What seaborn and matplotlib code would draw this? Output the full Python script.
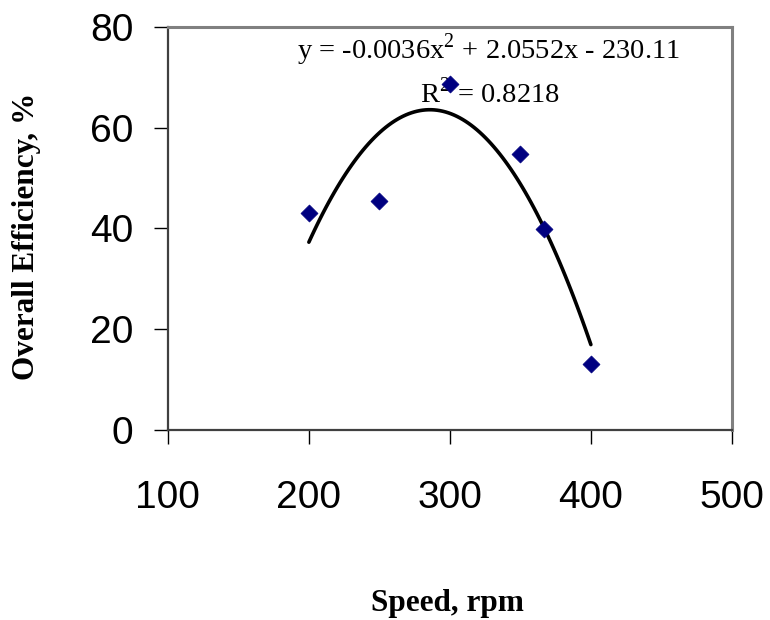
import numpy as np
import matplotlib
matplotlib.use("Agg")
import matplotlib.pyplot as plt
import seaborn as sns
import pandas as pd

# data
speed = [200, 250, 300, 350, 367, 400]
efficiency = [43.1, 45.4, 68.7, 54.7, 39.9, 13.1]
x_ticks = [100, 200, 300, 400, 500]
y_ticks = [0, 20, 40, 60, 80]
eq_text = "y = -0.0036x$^{2}$ + 2.0552x - 230.11"
r2_text = "R$^{2}$ = 0.8218"

df = pd.DataFrame({"Speed": speed, "Efficiency": efficiency})

sns.set_style("white")
plt.rcParams["font.family"] = ["Liberation Sans", "DejaVu Sans"]
plt.rcParams["mathtext.fontset"] = "custom"
plt.rcParams["mathtext.rm"] = "Liberation Serif"
plt.rcParams["text.color"] = "black"

fig = plt.figure(figsize=(7.7, 6.2), dpi=100)
ax = fig.add_axes([0.218, 0.3065, 0.7325, 0.65])

# quadratic trend line (fitted from the points)
sns.regplot(data=df, x="Speed", y="Efficiency", order=2, ci=None,
            scatter=False, truncate=True, ax=ax,
            line_kws={"color": "black", "lw": 2.6})
sns.scatterplot(data=df, x="Speed", y="Efficiency", marker="D", s=75,
                color="#000080", edgecolor="#000080", linewidth=0.5,
                ax=ax, zorder=5)

ax.set_xlim(100, 500)
ax.set_ylim(0, 80)
ax.set_xticks(x_ticks)
ax.set_yticks(y_ticks)
ax.tick_params(axis="both", labelsize=28, direction="out", length=10,
               width=1, colors="black", bottom=True, left=True)
ax.tick_params(axis="x", pad=26)
ax.tick_params(axis="y", pad=15)

for side in ["top", "right"]:
    ax.spines[side].set_color("#808080")
    ax.spines[side].set_linewidth(2.2)
for side in ["left", "bottom"]:
    ax.spines[side].set_color("#404040")
    ax.spines[side].set_linewidth(1.6)

ax.set_xlabel("")
ax.set_ylabel("")
fig.text(447 / 770, 1 - 603 / 620, "Speed, rpm", fontsize=22.5,
         fontweight="bold", family="Liberation Serif", ha="center", va="center")
fig.text(27 / 770, 1 - 236 / 620, "Overall Efficiency, %", fontsize=22.5,
         fontweight="bold", family="Liberation Serif", ha="center", va="center",
         rotation=90)

ax.text(0.568, 0.943, eq_text, transform=ax.transAxes, ha="center", va="center",
        fontsize=20.5, family="Liberation Serif")
ax.text(0.571, 0.836, r2_text, transform=ax.transAxes, ha="center", va="center",
        fontsize=20.5, family="Liberation Serif")

fig.savefig("out.png", dpi=100)
